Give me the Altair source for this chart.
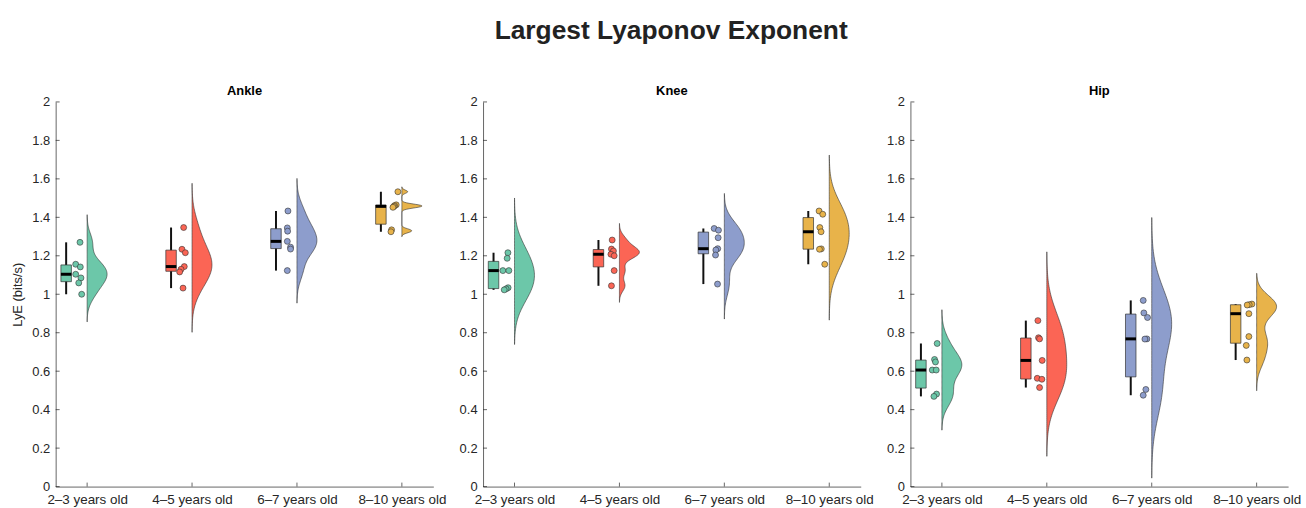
import json

import altair as alt
import numpy as np
import pandas as pd

# ---- data -------------------------------------------------------------
AGES = ["2–3 years old", "4–5 years old", "6–7 years old", "8–10 years old"]
JOINTS = ["Ankle", "Knee", "Hip"]
COLORS = ["#6cc7a9", "#fb6555", "#8d9dcc", "#e8b34a"]
Y_TICKS = [0, 0.2, 0.4, 0.6, 0.8, 1.0, 1.2, 1.4, 1.6, 1.8, 2.0]

# largest Lyapunov exponent (bits/s), one list per age group
ankle_values = [
    [1.270, 1.156, 1.142, 1.104, 1.085, 1.059, 1.000],
    [1.347, 1.234, 1.216, 1.144, 1.130, 1.116, 1.032],
    [1.433, 1.345, 1.328, 1.275, 1.245, 1.235, 1.123],
    [1.533, 1.465, 1.461, 1.457, 1.452, 1.335, 1.325],
]
knee_values = [
    [1.216, 1.187, 1.123, 1.123, 1.034, 1.028, 1.023],
    [1.282, 1.235, 1.225, 1.208, 1.200, 1.123, 1.044],
    [1.342, 1.333, 1.294, 1.237, 1.230, 1.204, 1.053],
    [1.433, 1.416, 1.347, 1.325, 1.236, 1.234, 1.156],
]
hip_values = [
    [0.744, 0.661, 0.648, 0.606, 0.606, 0.481, 0.469],
    [0.863, 0.774, 0.768, 0.656, 0.563, 0.558, 0.515],
    [0.968, 0.903, 0.879, 0.768, 0.767, 0.505, 0.475],
    [0.949, 0.946, 0.944, 0.899, 0.780, 0.734, 0.658],
]

# horizontal scatter of each subject's dot, in category units
ankle_jitter = [
    [-0.068, -0.109, -0.065, -0.109, -0.059, -0.080, -0.052],
    [-0.080, -0.096, -0.064, -0.074, -0.105, -0.118, -0.086],
    [-0.086, -0.092, -0.089, -0.092, -0.061, -0.061, -0.092],
    [-0.038, -0.054, -0.069, -0.076, -0.085, -0.098, -0.104],
]
knee_jitter = [
    [-0.063, -0.070, -0.111, -0.054, -0.061, -0.080, -0.098],
    [-0.069, -0.076, -0.057, -0.081, -0.050, -0.050, -0.076],
    [-0.097, -0.056, -0.059, -0.063, -0.081, -0.084, -0.065],
    [-0.097, -0.062, -0.090, -0.078, -0.076, -0.093, -0.043],
]
hip_jitter = [
    [-0.045, -0.070, -0.061, -0.092, -0.054, -0.051, -0.076],
    [-0.085, -0.079, -0.069, -0.044, -0.091, -0.047, -0.069],
    [-0.081, -0.075, -0.040, -0.046, -0.065, -0.056, -0.081],
    [-0.045, -0.071, -0.090, -0.074, -0.074, -0.099, -0.093],
]

VALUES = {"Ankle": ankle_values, "Knee": knee_values, "Hip": hip_values}
JITTER = {"Ankle": ankle_jitter, "Knee": knee_jitter, "Hip": hip_jitter}

FONT = "Liberation Sans"
TEXT = "#262626"
EDGE = "#333333"
VIOLIN_W = 0.19  # max half-violin width, category units
W, H = 380, 387

# ---- tidy tables ------------------------------------------------------
point_rows, box_rows, kde = [], [], {}
for joint in JOINTS:
    for gi, (vals, jit) in enumerate(zip(VALUES[joint], JITTER[joint]), start=1):
        for v, j in zip(vals, jit):
            point_rows.append({"joint": joint, "grp": gi, "age": AGES[gi - 1],
                               "value": v, "jit": j})
        v = np.asarray(vals)
        q1, med, q3 = np.percentile(v, [25, 50, 75], method="hazen")
        box_rows.append({"joint": joint, "grp": gi, "age": AGES[gi - 1],
                         "q1": q1, "med": med, "q3": q3,
                         "lo": v.min(), "hi": v.max()})
        # normal-kernel bandwidth from the median absolute deviation
        sig = np.median(np.abs(v - np.median(v))) / 0.6745
        bw = sig * (4.0 / (3.0 * len(v))) ** 0.2
        kde[(joint, gi)] = (bw, [float(v.min() - 3 * bw), float(v.max() + 3 * bw)])

points = pd.DataFrame(point_rows)
boxes = pd.DataFrame(box_rows)

color_scale = alt.Scale(domain=AGES, range=COLORS)
x_scale = alt.Scale(domain=[0.7, 4.3], nice=False, zero=False)
y_scale = alt.Scale(domain=[0, 2], nice=False, zero=False)

age_expr = json.dumps(AGES, ensure_ascii=False) + "[datum.value - 1]"
x_axis = alt.Axis(values=[1, 2, 3, 4], labelExpr=age_expr, title=None,
                  ticks=False, tickSize=0, labelPadding=6, labelFlush=False,
                  labelFontSize=13.5)


def y_axis(first):
    return alt.Axis(values=Y_TICKS, format="~g", ticks=False, tickSize=0,
                    labelPadding=6, title="LyE (bits/s)" if first else None,
                    titlePadding=7, titleFontWeight="normal", titleFontSize=13,
                    titleColor=TEXT, titleFont=FONT)


def panel(joint, first):
    X = lambda f: alt.X(f, type="quantitative", scale=x_scale, axis=x_axis)
    Y = lambda f: alt.Y(f, type="quantitative", scale=y_scale, axis=y_axis(first))
    fill = alt.Fill("age:N", scale=color_scale, legend=None)

    pts = points[points.joint == joint]
    bx = alt.Chart(boxes[boxes.joint == joint]).transform_calculate(
        bc="datum.grp - 0.2", b1="datum.grp - 0.25", b2="datum.grp - 0.15")

    whisker = bx.mark_rule(color="#111111", strokeWidth=2).encode(
        x=X("bc"), y=Y("lo"), y2="hi")
    box = bx.mark_rect(stroke=EDGE, strokeWidth=0.7).encode(
        x=X("b1"), x2="b2", y=Y("q1"), y2="q3", fill=fill)
    median = bx.mark_rule(color="#000000", strokeWidth=3).encode(
        x=X("b1"), x2="b2", y=Y("med"))

    dots = alt.Chart(pts).transform_calculate(px="datum.grp + datum.jit").mark_point(
        shape="circle", filled=True, size=36, stroke=EDGE, strokeWidth=0.6, opacity=1
    ).encode(x=X("px"), y=Y("value"), fill=fill)

    violins = []
    for gi in range(1, 5):
        bw, ext = kde[(joint, gi)]
        violins.append(
            alt.Chart(pts).transform_filter(alt.datum.grp == gi)
            .transform_density("value", as_=["value", "density"], bandwidth=float(bw),
                               extent=ext, steps=100, groupby=["grp", "age"])
            .transform_joinaggregate(dmax="max(density)")
            .transform_calculate(xr=f"datum.grp + {VIOLIN_W} * datum.density / datum.dmax")
            .mark_area(orient="horizontal", stroke=EDGE, strokeWidth=0.6, opacity=1)
            .encode(y=Y("value"), x=X("xr"), x2="grp", fill=fill)
        )

    # inward tick marks, MATLAB style
    yt = alt.Chart(pd.DataFrame({"t": Y_TICKS})).mark_rule(color=TEXT, strokeWidth=0.7).encode(
        y=Y("t"), x=alt.value(0), x2=alt.value(4))
    xt = alt.Chart(pd.DataFrame({"c": [1, 2, 3, 4]})).mark_rule(color=TEXT, strokeWidth=0.7).encode(
        x=X("c"), y=alt.value(H), y2=alt.value(H - 4))

    return alt.layer(*violins, whisker, box, median, dots, yt, xt).properties(
        width=W, height=H,
        title=alt.Title(joint, fontSize=13, fontWeight="bold", font=FONT,
                        color="#000000", offset=-2, anchor="middle"))


chart = alt.hconcat(
    panel("Ankle", True), panel("Knee", False), panel("Hip", False),
    spacing=50, bounds="flush",
).properties(
    title=alt.Title("Largest Lyaponov Exponent", fontSize=26.5, fontWeight="bold",
                    font=FONT, color="#222222", anchor="middle", offset=41, dx=15),
    padding={"left": 11, "top": 16, "right": 5, "bottom": 2},
).configure_view(stroke=None).configure_axis(
    grid=False, domainColor="#404040", domainWidth=0.8,
    labelColor=TEXT, labelFont=FONT, labelFontSize=13,
)

chart.save("out.html", embed_options={"renderer": "svg", "actions": False})
